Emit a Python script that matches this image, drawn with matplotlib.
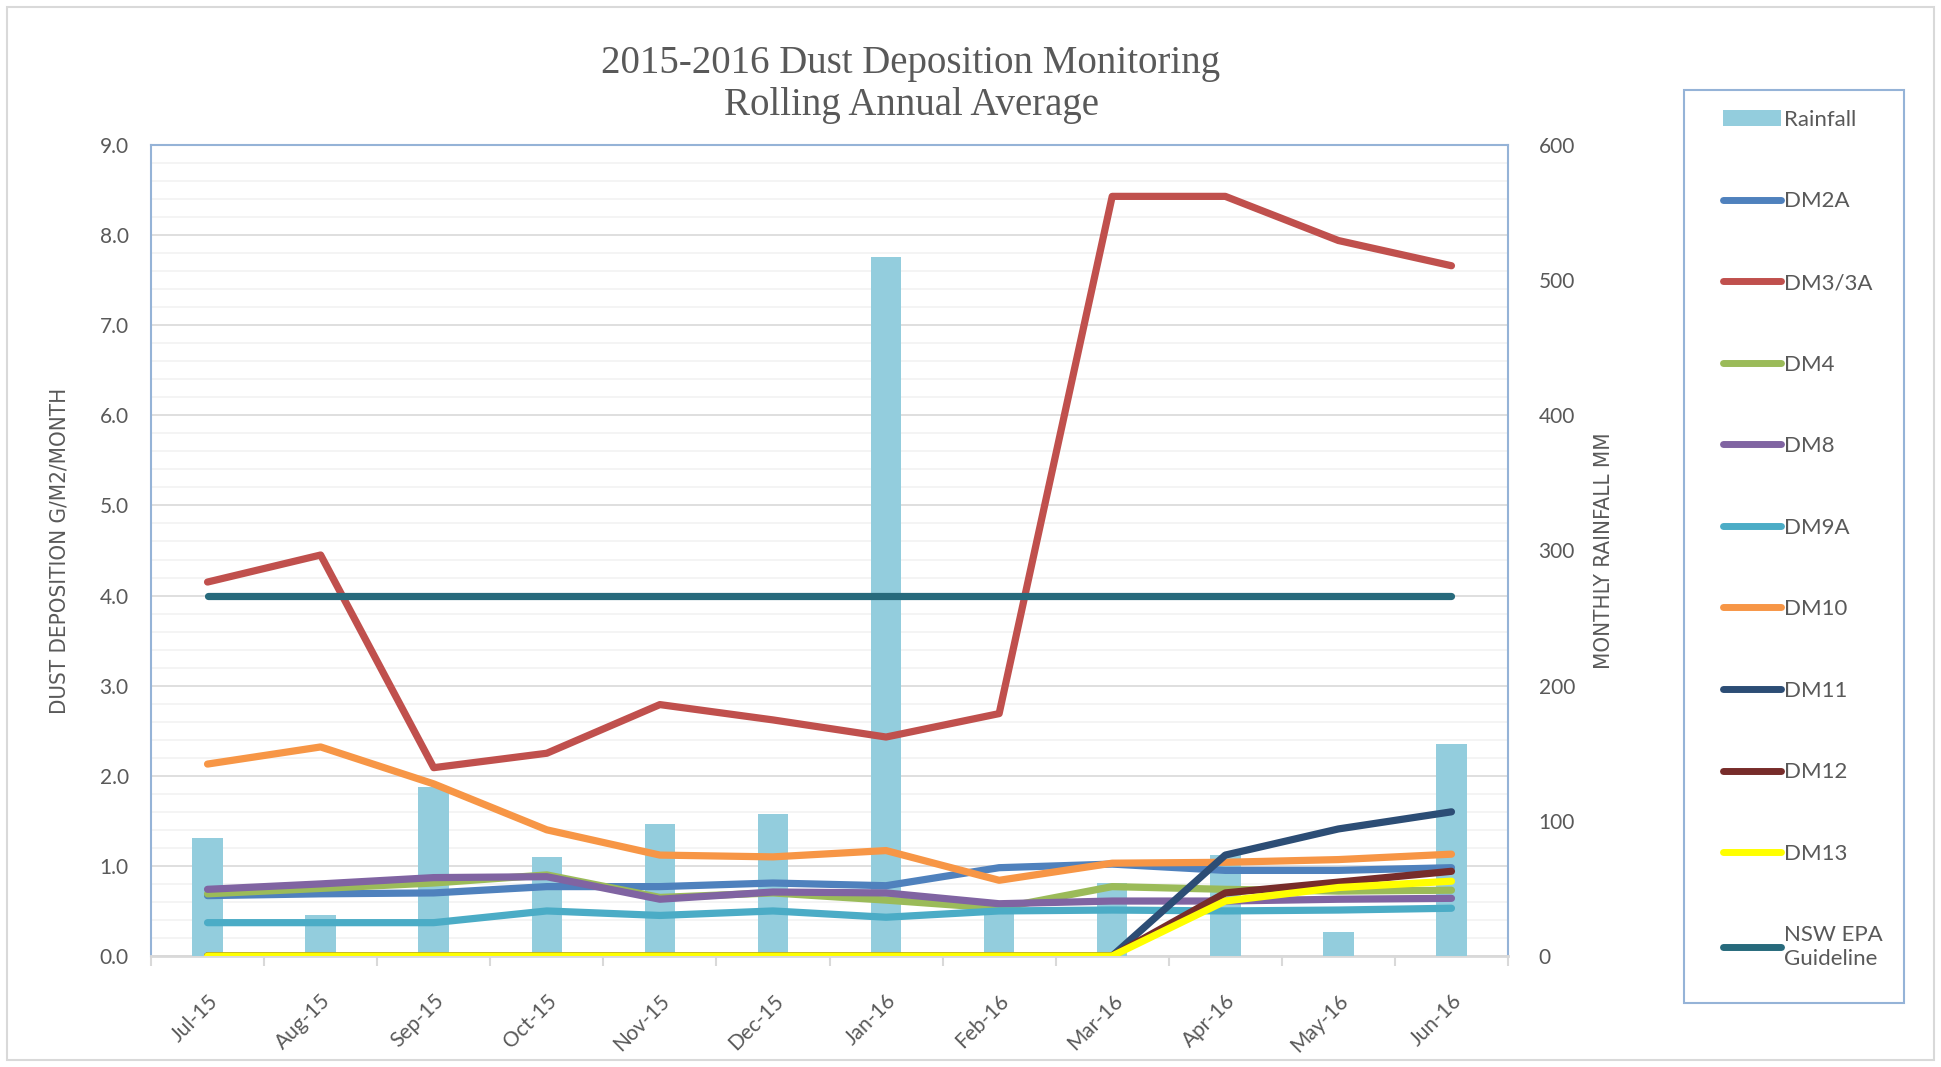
import matplotlib
matplotlib.use('Agg')
import matplotlib.pyplot as plt
from matplotlib.patches import Rectangle, Patch
from matplotlib.lines import Line2D
from matplotlib.ticker import MultipleLocator
import numpy as np

# data
months = ['Jul-15', 'Aug-15', 'Sep-15', 'Oct-15', 'Nov-15', 'Dec-15',
          'Jan-16', 'Feb-16', 'Mar-16', 'Apr-16', 'May-16', 'Jun-16']
rainfall = [87, 30, 125, 73, 98, 105, 517, 35, 54, 75, 18, 157]

dm2a = [0.67, 0.69, 0.70, 0.77, 0.77, 0.81, 0.78, 0.98, 1.02, 0.95, 0.95, 0.98]
dm3 = [4.15, 4.45, 2.09, 2.25, 2.79, 2.62, 2.43, 2.69, 8.43, 8.43, 7.94, 7.66]
dm4 = [0.69, 0.75, 0.81, 0.90, 0.65, 0.70, 0.62, 0.53, 0.77, 0.74, 0.72, 0.73]
dm8 = [0.74, 0.80, 0.87, 0.88, 0.63, 0.71, 0.70, 0.58, 0.61, 0.61, 0.63, 0.64]
dm9a = [0.37, 0.37, 0.37, 0.50, 0.45, 0.50, 0.43, 0.50, 0.51, 0.50, 0.51, 0.53]
dm10 = [2.13, 2.32, 1.91, 1.40, 1.12, 1.10, 1.17, 0.84, 1.03, 1.04, 1.07, 1.13]
dm11 = [0, 0, 0, 0, 0, 0, 0, 0, 0, 1.12, 1.41, 1.60]
dm12 = [0, 0, 0, 0, 0, 0, 0, 0, 0, 0.70, 0.82, 0.94]
dm13 = [0, 0, 0, 0, 0, 0, 0, 0, 0, 0.61, 0.76, 0.83]
epa = [4.0] * 12

series = [
    ('DM2A', dm2a, '#4F81BD'),
    ('DM3/3A', dm3, '#C0504D'),
    ('DM4', dm4, '#9BBB59'),
    ('DM8', dm8, '#8064A2'),
    ('DM9A', dm9a, '#4BACC6'),
    ('DM10', dm10, '#F79646'),
    ('DM11', dm11, '#2C4D75'),
    ('DM12', dm12, '#772C2A'),
    ('DM13', dm13, '#FFFF00'),
    ('NSW EPA\nGuideline', epa, '#276A7C'),
]

text_col = '#595959'
tick_font = 'Lato'
narrow = ['Liberation Sans Narrow', 'DejaVu Sans']

fig = plt.figure(figsize=(19.41, 10.67), dpi=100)
rect = [151 / 1941, 1 - 956 / 1067, (1508 - 151) / 1941, (956 - 145) / 1067]

x = np.arange(len(months))

# base axes: left scale + grid
ax = fig.add_axes(rect)
ax.set_xlim(-0.5, len(months) - 0.5)
ax.set_ylim(0, 9)
ax.yaxis.set_major_locator(MultipleLocator(1))
ax.yaxis.set_minor_locator(MultipleLocator(0.2))
ax.grid(which='minor', axis='y', color='#F2F2F2', lw=1.2)
ax.grid(which='major', axis='y', color='#D9D9D9', lw=1.2)
ax.set_axisbelow(True)
ax.set_yticks(np.arange(0, 10, 1))
ax.set_yticklabels([f'{v:.1f}' for v in np.arange(0, 10, 1)],
                   fontsize=15, color=text_col, family=tick_font)
ax.tick_params(axis='y', which='both', length=0, pad=16)
ax.set_xticks(x)
ax.set_xticklabels(months, rotation=45, ha='right', rotation_mode='anchor',
                   fontsize=15, color=text_col, family=tick_font)
ax.set_xticks(np.arange(-0.5, len(months), 1), minor=True)
ax.tick_params(axis='x', which='major', length=0, pad=25)
ax.tick_params(axis='x', which='minor', length=7, color='#D9D9D9', width=1.5)
ax.set_ylabel('DUST DEPOSITION G/M2/MONTH', fontsize=16, color=text_col,
              family=narrow, fontstretch='condensed', labelpad=22)
for s in ['left', 'top', 'right']:
    ax.spines[s].set_color('#95B3D7')
    ax.spines[s].set_linewidth(1.5)
ax.spines['bottom'].set_color('#D9D9D9')
ax.spines['bottom'].set_linewidth(2)

# rainfall bars on secondary axis
ax2 = ax.twinx()
ax2.bar(x, rainfall, width=0.27, color='#93CDDD', zorder=2)
ax2.set_ylim(0, 600)
ax2.set_yticks(np.arange(0, 700, 100))
ax2.set_yticklabels([str(v) for v in range(0, 700, 100)],
                    fontsize=15, color=text_col, family=tick_font)
ax2.tick_params(axis='y', length=0, pad=22)
ax2.set_ylabel('MONTHLY RAINFALL MM', fontsize=16, color=text_col,
               family=narrow, fontstretch='condensed', labelpad=14)
for s in ax2.spines.values():
    s.set_visible(False)

# lines on top
ax3 = fig.add_axes(rect, sharex=ax, sharey=ax)
ax3.patch.set_visible(False)
ax3.axis('off')
handles = [Patch(facecolor='#93CDDD', label='Rainfall')]
for name, vals, col in series:
    ax3.plot(x, vals, color=col, lw=5.2, solid_capstyle='round',
             solid_joinstyle='round', label=name)
    handles.append(Line2D([0], [0], color=col, lw=5, solid_capstyle='round',
                          label=name))

fig.text(911 / 1941, 1 - 63 / 1067, '2015-2016 Dust Deposition Monitoring',
         ha='center', va='center', fontsize=28, color=text_col,
         family='Liberation Serif')
fig.text(911 / 1941, 1 - 106 / 1067, 'Rolling Annual Average',
         ha='center', va='center', fontsize=28, color=text_col,
         family='Liberation Serif')

# legend
fig.patches.append(Rectangle((1684 / 1941, 1 - 1003 / 1067), 220 / 1941,
                             913 / 1067, transform=fig.transFigure,
                             fill=False, edgecolor='#95B3D7', lw=1.5))
leg = fig.legend(handles=handles, loc='upper left',
                 bbox_to_anchor=(1714 / 1941, 1 - 101 / 1067),
                 frameon=False, fontsize=16, labelspacing=2.77,
                 handlelength=2.6, handletextpad=0.15, borderaxespad=0)
for t in leg.get_texts():
    t.set_color(text_col)
    t.set_family(tick_font)

# outer chart border
fig.patches.append(Rectangle((7 / 1941, 7 / 1067), 1927 / 1941, 1053 / 1067,
                             transform=fig.transFigure, fill=False,
                             edgecolor='#D9D9D9', lw=1.5))

fig.savefig('out.png', dpi=100)
